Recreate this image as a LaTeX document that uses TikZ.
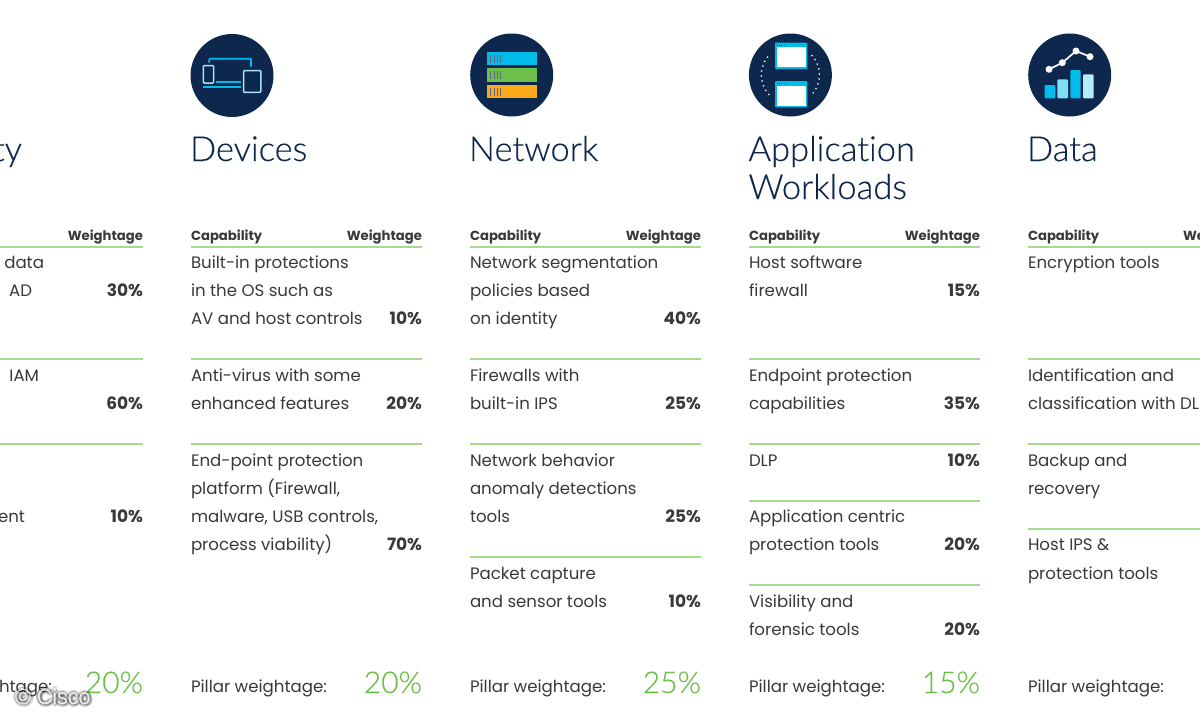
\documentclass[tikz,border=0pt]{standalone}
\usepackage{fontspec}
\setmainfont{Poppins}
\newfontfamily\lightf[FakeBold=0.25,Ligatures=NoCommon]{Lato Light}
\newfontfamily\wmf{Liberation Sans}
\definecolor{navy}{HTML}{0D274D}
\definecolor{bodyc}{HTML}{39393B}
\definecolor{greenl}{HTML}{A4DB8F}
\definecolor{greenp}{HTML}{6CC04A}
\definecolor{cyanc}{HTML}{00BCEB}
\definecolor{cyanl}{HTML}{A8E4F5}
\definecolor{cyanm}{HTML}{7FDFF5}
\definecolor{cyanp}{HTML}{B5ECFA}
\definecolor{orangec}{HTML}{FBAB18}
\tikzset{
 inner sep=0pt,outer sep=0pt,
 title/.style={anchor=base west,font=\lightf\fontsize{34.5}{35}\selectfont,text=navy},
 titler/.style={title,anchor=base east},
 body/.style={anchor=base west,font=\fontsize{16.6}{17}\selectfont,text=bodyc},
 bodyr/.style={body,anchor=base east},
 pct/.style={anchor=base east,font=\bfseries\fontsize{17}{17}\selectfont,text=bodyc},
 head/.style={anchor=base west,font=\bfseries\fontsize{13.2}{13}\selectfont,text=bodyc},
 headr/.style={head,anchor=base east},
 rulel/.style={draw=greenl,line width=2pt},
 pw/.style={anchor=base east,font=\lightf\fontsize{30}{30}\selectfont,text=greenp},
 disc/.style={circle,fill=navy,minimum size=83pt},
 winb/.style={fill=cyanc,rounded corners=1pt},
 wmark/.style={anchor=base west,font=\wmf\fontsize{21.5}{21}\selectfont},
}
\newcommand{\grule}[3]{\draw[rulel] (#1,#3) -- (#2,#3);}
\begin{document}
\begin{tikzpicture}[x=1pt,y=-1pt]
\useasboundingbox (0,0) rectangle (1200,720);
\clip (0,0) rectangle (1200,720);
\fill[white] (0,0) rectangle (1200,720);
% ---- icons
\node[disc] (icD) at (232,75.5) {};
\node[disc] (icN) at (511.7,75) {};
\node[disc] (icA) at (790.4,75) {};
\node[disc] (icG) at (1069.7,75) {};
% devices
\draw[cyanc,line width=1.7pt,rounded corners=1pt] (209.3,62.7) -- (209.3,58.7) -- (251,58.7) -- (251,66.7);
\draw[cyanc,line width=1.7pt] (216,81.7) -- (240.7,81.7);
\draw[cyanc,line width=1.7pt] (203.3,86.7) -- (240.7,86.7);
\draw[cyanl,line width=1.5pt,rounded corners=1pt] (203.3,65.5) rectangle (213.6,83);
\draw[cyanl,line width=1.5pt,rounded corners=1pt] (243.6,70.5) rectangle (260.8,92.3);
% network
\fill[cyanc] (487,52) rectangle (536.7,65.3);
\fill[greenp] (487,68.3) rectangle (536.7,82);
\fill[orangec] (487,85) rectangle (536.7,98.3);
\foreach \yy in {58.7,75.2,91.7}\foreach \xx in {490.7,494,497.3,500.7}
 \draw[navy!70,line width=.8pt] (\xx,\yy-4) -- (\xx,\yy+4);
% application
\fill[winb] (775,42.7) rectangle (807.3,69);
\fill[winb] (775,81) rectangle (807.3,107.3);
\fill[white] (776.8,47.4) rectangle (805.6,67.3);
\fill[white] (776.8,85.8) rectangle (805.6,105.6);
\foreach \xx in {777.5,779.5,781.5,785}{
 \fill[navy] (\xx,45.1) circle (.5);
 \fill[navy] (\xx,83.4) circle (.5);}
\foreach \aa in {-42,-32,-22,-12,-2,8,18,28,38}{
 \fill[white!85!navy] (790.4,75)++(\aa:29) circle (1);
 \fill[white!85!navy] (790.4,75)++(180+\aa:29) circle (1);}
% data
\fill[cyanc,rounded corners=1pt] (1044.7,85) rectangle (1055.3,98.3);
\fill[cyanm,rounded corners=1pt] (1057.3,79.3) rectangle (1068,98.3);
\fill[cyanc,rounded corners=1pt] (1070.3,70) rectangle (1080.7,98.3);
\fill[cyanp,rounded corners=1pt] (1083,74.3) rectangle (1093.7,98.3);
\draw[white,line width=1.7pt] (1049,69.3) -- (1062.3,62.7) -- (1076,51) -- (1090,56.7);
\foreach \xx/\yy in {1049/69.3,1062.3/62.7,1076/51,1090/56.7}
 \fill[white] (\xx,\yy) circle (3.5);
% ---- titles
\node[titler] (t0) at (22,161) {ty};
\node[title] (t1) at (190,161) {Devices};
\node[title] (t2) at (469,161) {Network};
\node[title] (t3) at (748.5,161) {Application};
\node[title] (t3b) at (748.5,199) {Workloads};
\node[title] (t4) at (1027,161) {Data};
% ---- headers
\node[headr] (h0r) at (143,240) {Weightage};
\node[head] (h1) at (191,240) {Capability};
\node[headr] (h1r) at (422,240) {Weightage};
\node[head] (h2) at (470,240) {Capability};
\node[headr] (h2r) at (701,240) {Weightage};
\node[head] (h3) at (749,240) {Capability};
\node[headr] (h3r) at (980,240) {Weightage};
\node[head] (h4) at (1028,240) {Capability};
\node[head] (h4r) at (1183,240) {Weightage};
% ---- rules
\grule{-2}{143}{247}\grule{-2}{143}{359}\grule{-2}{143}{444}
\grule{191}{422}{247}\grule{191}{422}{359}\grule{191}{422}{444}
\grule{470}{701}{247}\grule{470}{701}{359}\grule{470}{701}{444}\grule{470}{701}{557}
\grule{749}{980}{247}\grule{749}{980}{359}\grule{749}{980}{444}\grule{749}{980}{501}\grule{749}{980}{585}
\grule{1028}{1202}{247}\grule{1028}{1202}{359}\grule{1028}{1202}{444}\grule{1028}{1202}{529}
% ---- left column
\node[bodyr] (a1) at (44,268) {l data};
\node[bodyr] (a2) at (32,296) {AD};
\node[pct] (a3) at (143,296) {30\%};
\node[bodyr] (a4) at (39,381) {IAM};
\node[pct] (a5) at (143,409) {60\%};
\node[bodyr] (a6) at (25,522) {ent};
\node[pct] (a7) at (143,522) {10\%};
\node[bodyr] (a8) at (52,692) {htage:};
\node[pw] (a9) at (143,693) {20\%};
% ---- devices
\node[body] (b1) at (191,268) {Built-in protections};
\node[body] (b2) at (191,296) {in the OS such as};
\node[body] (b3) at (191,324) {AV and host controls};
\node[pct] (b4) at (422,324) {10\%};
\node[body] (b5) at (191,381) {Anti-virus with some};
\node[body] (b6) at (191,409) {enhanced features};
\node[pct] (b7) at (422,409) {20\%};
\node[body] (b8) at (191,466) {End-point protection};
\node[body] (b9) at (191,494) {platform (Firewall,};
\node[body] (b10) at (191,522) {malware, USB controls,};
\node[body] (b11) at (191,550) {process viability)};
\node[pct] (b12) at (422,550) {70\%};
\node[body] (b13) at (191,692) {Pillar weightage:};
\node[pw] (b14) at (422,693) {20\%};
% ---- network
\node[body] (c1) at (470,268) {Network segmentation};
\node[body] (c2) at (470,296) {policies based};
\node[body] (c3) at (470,324) {on identity};
\node[pct] (c4) at (701,324) {40\%};
\node[body] (c5) at (470,381) {Firewalls with};
\node[body] (c6) at (470,409) {built-in IPS};
\node[pct] (c7) at (701,409) {25\%};
\node[body] (c8) at (470,466) {Network behavior};
\node[body] (c9) at (470,494) {anomaly detections};
\node[body] (c10) at (470,522) {tools};
\node[pct] (c11) at (701,522) {25\%};
\node[body] (c12) at (470,579) {Packet capture};
\node[body] (c13) at (470,607) {and sensor tools};
\node[pct] (c14) at (701,607) {10\%};
\node[body] (c15) at (470,692) {Pillar weightage:};
\node[pw] (c16) at (701,693) {25\%};
% ---- application
\node[body] (d1) at (749,268) {Host software};
\node[body] (d2) at (749,296) {firewall};
\node[pct] (d3) at (980,296) {15\%};
\node[body] (d4) at (749,381) {Endpoint protection};
\node[body] (d5) at (749,409) {capabilities};
\node[pct] (d6) at (980,409) {35\%};
\node[body] (d7) at (749,466) {DLP};
\node[pct] (d8) at (980,466) {10\%};
\node[body] (d9) at (749,522) {Application centric};
\node[body] (d10) at (749,550) {protection tools};
\node[pct] (d11) at (980,550) {20\%};
\node[body] (d12) at (749,607) {Visibility and};
\node[body] (d13) at (749,635) {forensic tools};
\node[pct] (d14) at (980,635) {20\%};
\node[body] (d15) at (749,692) {Pillar weightage:};
\node[pw] (d16) at (980,693) {15\%};
% ---- data
\node[body] (e1) at (1028,268) {Encryption tools};
\node[body] (e2) at (1028,381) {Identification and};
\node[body] (e3) at (1028,409) {classification with DLP};
\node[body] (e4) at (1028,466) {Backup and};
\node[body] (e5) at (1028,494) {recovery};
\node[body] (e6) at (1028,550) {Host IPS \&};
\node[body] (e7) at (1028,579) {protection tools};
\node[body] (e8) at (1028,692) {Pillar weightage:};
% ---- watermark
\foreach \dx/\dy in {-2/0,2/0,0/-2,0/2,-1.5/-1.5,1.5/1.5,-1.5/1.5,1.5/-1.5,2.5/2.5,0/3.5,3/1}
 \node[wmark,text=black,opacity=.13] at (15+\dx,704+\dy) {© Cisco};
\node[wmark,text=white!92!black] (wm) at (15,704) {© Cisco};
\end{tikzpicture}
\end{document}
